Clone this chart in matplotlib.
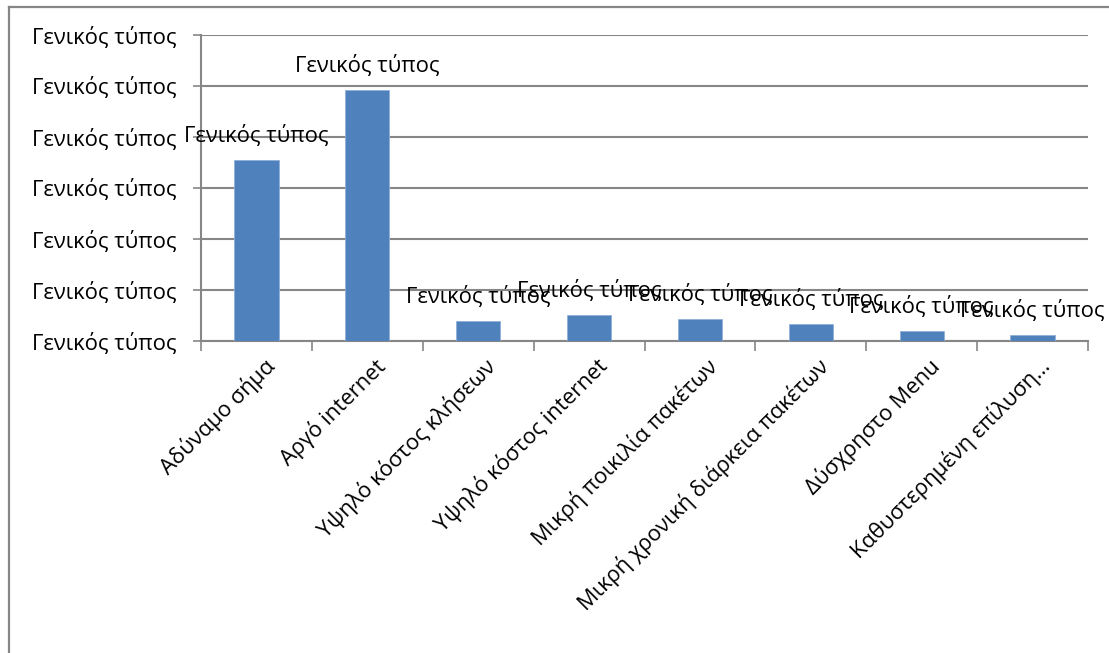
import matplotlib
matplotlib.use("Agg")
import matplotlib.pyplot as plt
from matplotlib.lines import Line2D
import numpy as np

# data (fractions, gridline step 0.1)
categories = ["Αδύναμο σήμα", "Αργό internet", "Υψηλό κόστος κλήσεων",
              "Υψηλό κόστος internet", "Μικρή ποικιλία πακέτων",
              "Μικρή χρονική διάρκεια πακέτων", "Δύσχρηστο Menu",
              "Καθυστερημένη επίλυση…"]
values = [0.354, 0.493, 0.039, 0.051, 0.043, 0.033, 0.019, 0.011]
yticks = [0.0, 0.1, 0.2, 0.3, 0.4, 0.5, 0.6]
label_text = "Γενικός τύπος"   # broken number format shown by the original

plt.rcParams['font.family'] = ['Open Sans', 'DejaVu Sans']
FS = 15.8
grey = '#868686'

fig = plt.figure(figsize=(11.09, 6.53), dpi=100)
W, H = 1109, 653
ax = fig.add_axes([201 / W, 1 - 341 / H, (1088 - 201) / W, (341 - 35) / H])

x = np.arange(len(categories))
bars = ax.bar(x, values, width=0.4, color='#4F81BD', edgecolor='#8FB0D9',
              linewidth=0.6, zorder=3)

for b, v in zip(bars, values):
    ax.annotate(label_text, (b.get_x() + b.get_width() / 2, v),
                xytext=(0, 13), textcoords='offset points',
                ha='center', va='baseline', fontsize=FS, zorder=4)

ax.set_xlim(-0.5, len(categories) - 0.5)
ax.set_ylim(0, 0.6)
ax.set_yticks(yticks)
ax.set_yticklabels([label_text] * len(yticks), fontsize=FS)
ax.yaxis.grid(True, color=grey, linewidth=1.5, zorder=0)
ax.tick_params(axis='y', direction='out', length=6, width=1.2, color=grey, pad=12)

ax.set_xticks(x + 0.06)
ax.set_xticklabels(categories, rotation=45, ha='right', rotation_mode='anchor',
                   fontsize=FS)
ax.set_xticks(np.arange(len(categories) + 1) - 0.5, minor=True)
ax.tick_params(axis='x', which='major', length=0, pad=10)
ax.tick_params(axis='x', which='minor', direction='out', length=7, width=1.2, color=grey)

for s in ['top', 'right']:
    ax.spines[s].set_visible(False)
for s in ['left', 'bottom']:
    ax.spines[s].set_color(grey)
    ax.spines[s].set_linewidth(1.5)

# outer chart frame (left and top edges only visible)
fig.add_artist(Line2D([9 / W, 9 / W], [0, 1 - 7 / H], color=grey, linewidth=1.6))
fig.add_artist(Line2D([9 / W, 1], [1 - 7 / H, 1 - 7 / H], color=grey, linewidth=1.6))

fig.savefig("out.png", dpi=100, facecolor='white')
